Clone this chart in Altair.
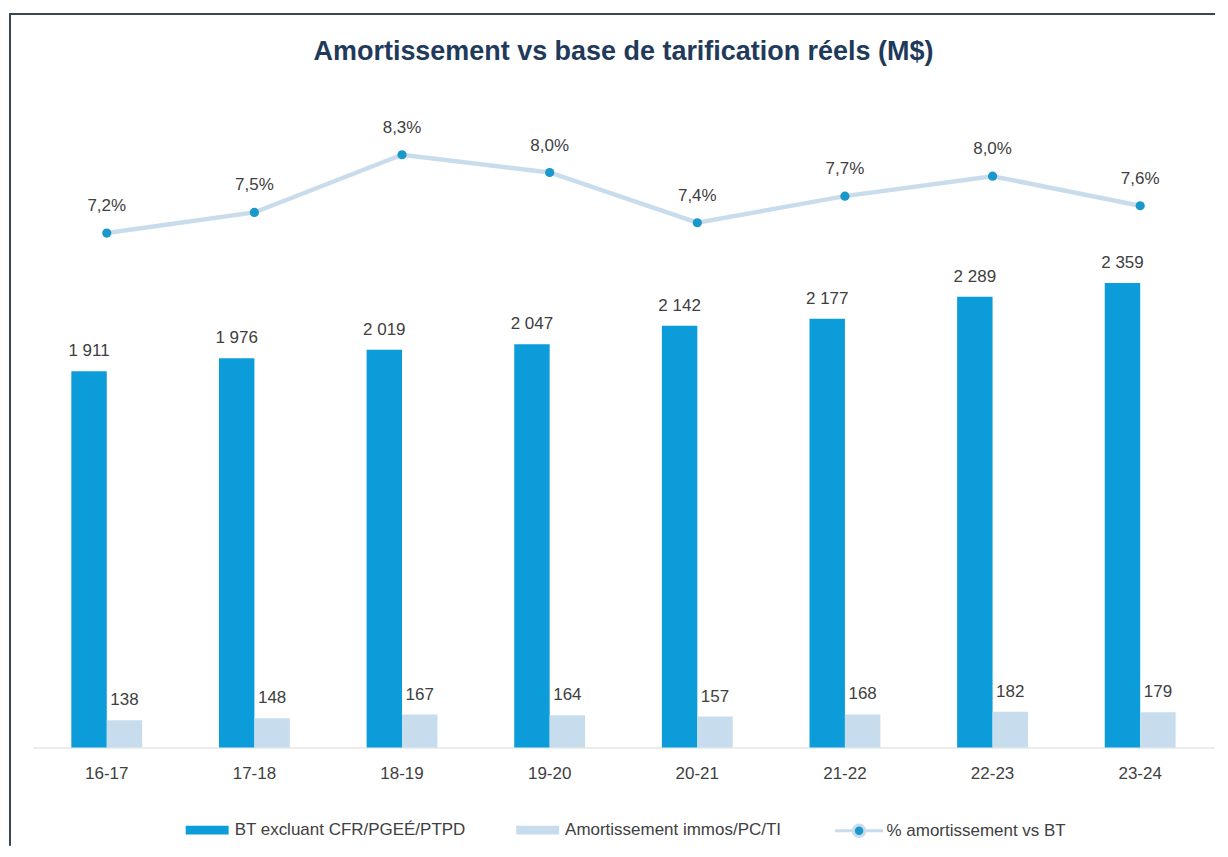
import altair as alt
import pandas as pd

TITLE = "Amortissement vs base de tarification réels (M$)"
periods = ["16-17", "17-18", "18-19", "19-20", "20-21", "21-22", "22-23", "23-24"]
bt_values = [1911, 1976, 2019, 2047, 2142, 2177, 2289, 2359]
amort_values = [138, 148, 167, 164, 157, 168, 182, 179]
pct_values = [7.22, 7.50, 8.28, 8.04, 7.36, 7.72, 7.99, 7.59]

S_BT = "BT excluant CFR/PGEÉ/PTPD"
S_AM = "Amortissement immos/PC/TI"
S_PCT = "% amortissement vs BT"

BLUE = "#0C9CD9"
LIGHT = "#C7DCEC"
LINE = "#C9DCEB"
DOT = "#1B98CB"
TXT = "#404040"
FRAME = "#3A4650"
FONT = "Liberation Sans, Arial, sans-serif"

bars_df = pd.DataFrame(
    {"period": periods * 2,
     "series": [S_BT] * len(periods) + [S_AM] * len(periods),
     "value": bt_values + amort_values}
)
line_df = pd.DataFrame({"period": periods, "pct": pct_values, "series": [S_PCT] * len(periods)})
title_df = pd.DataFrame({"title": [TITLE]})

x_enc = alt.X("period:N", sort=periods, title=None,
              scale=alt.Scale(paddingInner=0.52, paddingOuter=0.26),
              axis=alt.Axis(labelAngle=0, ticks=False, domainColor="#D9D9D9", domainWidth=1,
                            labelColor=TXT, labelFont=FONT, labelFontSize=17, labelPadding=18))
bar_y = alt.Y("value:Q", axis=None, scale=alt.Scale(domain=[0, 3280], nice=False, zero=True))
line_y = alt.Y("pct:Q", axis=None, scale=alt.Scale(domain=[0.26, 9.0], nice=False, zero=False))
xoff = alt.XOffset("series:N", sort=[S_BT, S_AM], scale=alt.Scale(paddingInner=0, paddingOuter=0))

bars = alt.Chart(bars_df).mark_bar().encode(
    x=x_enc, xOffset=xoff, y=bar_y,
    color=alt.Color("series:N", sort=[S_BT, S_AM],
                    scale=alt.Scale(domain=[S_BT, S_AM], range=[BLUE, LIGHT]),
                    legend=alt.Legend(title=None, orient="none", legendX=153, legendY=708,
                                      direction="horizontal", columnPadding=50,
                                      symbolType="M-1,-0.2H1V0.2H-1Z", symbolSize=1849,
                                      symbolStrokeWidth=0, labelFont=FONT, labelFontSize=17,
                                      labelColor=TXT, labelOffset=6, labelLimit=400)),
)

bar_text = alt.Chart(bars_df).transform_calculate(
    lab="replace(format(datum.value, ','), ',', ' ')"
).mark_text(dy=-20, baseline="middle", font=FONT, fontSize=17, color=TXT).encode(
    x=x_enc, xOffset=xoff, y=bar_y, text="lab:N"
)

line = alt.Chart(line_df).mark_line(color=LINE, strokeWidth=4.5).encode(
    x=x_enc, y=line_y
)

pts = alt.Chart(line_df).mark_point(filled=True, size=85, opacity=1).encode(
    x=x_enc, y=line_y,
    fill=alt.Fill("series:N", scale=alt.Scale(domain=[S_PCT], range=[DOT]),
                  legend=alt.Legend(title=None, orient="none", legendX=802, legendY=705,
                                    symbolType="M-1,0H-0.24 M0.24,0H1 M-0.24,0A0.24,0.24 0 1,0 0.24,0A0.24,0.24 0 1,0 -0.24,0Z",
                                    symbolSize=2304, symbolStrokeColor=LINE, symbolStrokeWidth=3,
                                    labelFont=FONT, labelFontSize=17, labelColor=TXT, labelOffset=2,
                                    labelLimit=400)),
)

pct_text = alt.Chart(line_df).transform_calculate(
    lab="replace(format(datum.pct, '.1f'), '.', ',') + '%'"
).mark_text(dy=-27, baseline="middle", font=FONT, fontSize=17, color=TXT).encode(
    x=x_enc, y=line_y, text="lab:N"
)

# chart title, placed above the plot area
title_mark = alt.Chart(title_df).mark_text(
    font=FONT, fontSize=27, fontWeight="bold", color="#1F3A5A", align="center", baseline="middle"
).encode(x=alt.value(591.5), y=alt.value(-50), text="title:N")

# decorative chart-area frame (top and left edges)
frame_top = alt.Chart(line_df).mark_rule(color=FRAME, strokeWidth=1.5).encode(
    x=alt.value(-23), x2=alt.value(1184), y=alt.value(-88)
)
frame_left = alt.Chart(line_df).mark_rule(color=FRAME, strokeWidth=1.5).encode(
    x=alt.value(-23), y=alt.value(-88), y2=alt.value(745)
)

chart = alt.layer(bars, bar_text, line, pts, pct_text, title_mark, frame_top, frame_left).resolve_scale(
    y="independent", color="independent", fill="independent"
).properties(
    width=1183, height=647,
    padding={"left": 1, "top": 4, "right": 4, "bottom": 0},
).configure(background="white").configure_view(stroke=None)

chart.save("out.html", embed_options={"renderer": "svg", "actions": False})
